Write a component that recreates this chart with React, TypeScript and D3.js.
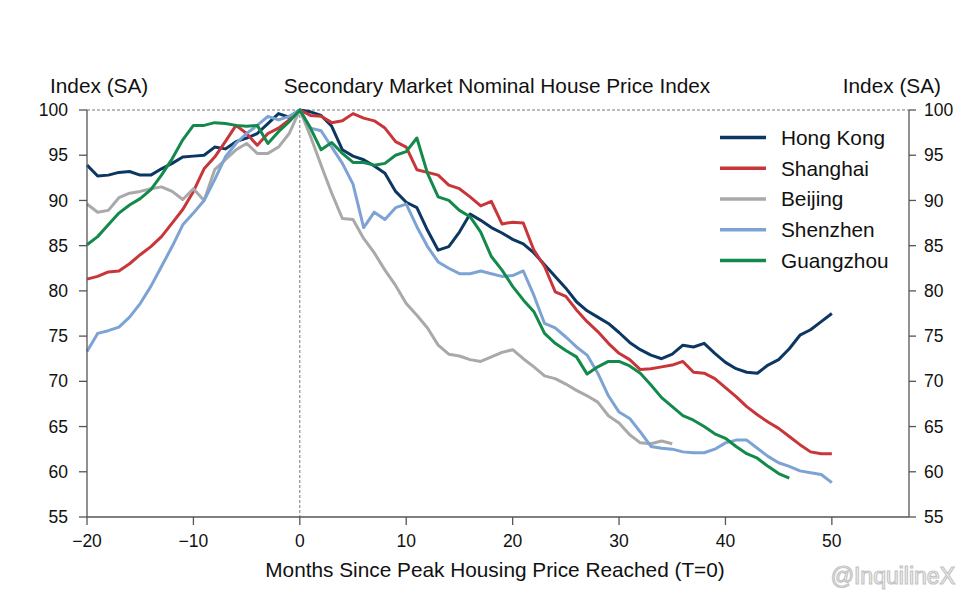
import React from "react";
import * as d3 from "d3";

// months since peak, -20 .. 50
const hongKong = [
	93.9, 92.7, 92.8, 93.1, 93.2, 92.8, 92.8, 93.5, 94.1, 94.8, 94.9, 95.0, 95.9, 95.7, 96.5, 96.9, 97.4, 98.5, 99.6, 99.2,
	100,
	99.8, 99.4, 98.2, 95.6, 94.9, 94.5, 93.8, 93.0, 91.0, 89.8, 89.2, 86.7, 84.5, 84.9, 86.5, 88.5, 87.8, 87.0, 86.4, 85.7,
	85.2, 84.2, 82.9, 81.6, 80.3, 78.8, 77.8, 77.1, 76.4, 75.4, 74.3, 73.5, 72.9, 72.5, 73.0, 74.0, 73.8, 74.2, 73.1, 72.1,
	71.4, 71.0, 70.9, 71.8, 72.4, 73.6, 75.1, 75.7, 76.6, 77.5
];
const shanghai = [
	81.3, 81.6, 82.1, 82.2, 83.0, 84.0, 84.9, 86.0, 87.5, 89.0, 91.0, 93.5, 94.8, 96.5, 98.3, 97.4, 96.1, 97.4, 98.0, 98.9,
	100,
	99.4, 99.3, 98.6, 98.8, 99.6, 99.1, 98.8, 98.0, 96.5, 95.9, 93.4, 93.1, 92.8, 91.7, 91.3, 90.4, 89.4, 89.9, 87.4, 87.6,
	87.5, 84.5, 82.7, 79.9, 79.4, 77.9, 76.6, 75.5, 74.2, 73.1, 72.4, 71.3, 71.4, 71.6, 71.8, 72.2, 71.0, 70.9, 70.3, 69.3,
	68.3, 67.2, 66.3, 65.5, 64.8, 63.9, 63.0, 62.2, 62.0, 62.0
];
// -20 .. 35
const beijing = [
	89.6, 88.7, 88.9, 90.3, 90.8, 91.0, 91.3, 91.5, 91.0, 90.1, 91.3, 90.0, 93.4, 94.5, 95.6, 96.3, 95.2, 95.2, 95.9, 97.4,
	100,
	97.1, 93.9, 90.8, 88.0, 87.9, 85.8, 84.2, 82.3, 80.6, 78.6, 77.3, 75.9, 74.0, 73.0, 72.8, 72.4, 72.2, 72.7, 73.2, 73.5,
	72.5, 71.6, 70.6, 70.3, 69.7, 69.0, 68.4, 67.7, 66.2, 65.4, 64.1, 63.2, 63.1, 63.4, 63.1
];
// -20 .. 50
const shenzhen = [
	73.3, 75.3, 75.6, 76.0, 77.1, 78.6, 80.5, 82.7, 84.9, 87.3, 88.6, 90.0, 92.3, 94.8, 96.3, 97.4, 98.3, 99.3, 98.9, 99.3,
	100,
	98.0, 97.7, 95.9, 94.1, 91.8, 87.0, 88.7, 87.9, 89.2, 89.6, 87.1, 84.9, 83.2, 82.5, 81.9, 81.9, 82.2, 81.9, 81.6, 81.7,
	82.2, 79.5, 76.4, 75.9, 74.9, 73.8, 72.9, 70.9, 68.4, 66.6, 65.9, 64.4, 62.8, 62.6, 62.5, 62.2, 62.1, 62.1, 62.5, 63.2,
	63.5, 63.5, 62.6, 61.7, 61.0, 60.6, 60.1, 59.9, 59.7, 58.8
];
// -20 .. 46
const guangzhou = [
	85.1, 86.0, 87.3, 88.6, 89.5, 90.2, 91.2, 92.8, 94.6, 96.7, 98.3, 98.3, 98.6, 98.5, 98.3, 98.2, 98.3, 96.3, 97.6, 98.7,
	100,
	98.0, 95.6, 96.4, 95.2, 94.2, 94.2, 93.9, 94.1, 95.0, 95.4, 96.9, 93.0, 90.4, 90.0, 88.9, 88.2, 86.5, 83.8, 82.3, 80.5,
	79.0, 77.7, 75.3, 74.2, 73.4, 72.7, 70.8, 71.6, 72.2, 72.2, 71.7, 70.9, 69.6, 68.2, 67.2, 66.2, 65.7, 65.0, 64.2, 63.7,
	62.8, 62.0, 61.5, 60.6, 59.8, 59.3
];

const cities = ["Hong Kong", "Shanghai", "Beijing", "Shenzhen", "Guangzhou"];
const colors = ["#0d3763", "#c8363a", "#a9a9a9", "#7ca3d3", "#138a4b"];
const seriesList = [hongKong, shanghai, beijing, shenzhen, guangzhou];
const firstMonth = -20;
const xTicks = [-20, -10, 0, 10, 20, 30, 40, 50];
const yTicks = [55, 60, 65, 70, 75, 80, 85, 90, 95, 100];

const font = "'Liberation Sans', Arial, Helvetica, sans-serif";
const axisColor = "#555";
const textSize = 20.8;

const x = d3.scaleLinear().domain([-20, 57.25]).range([87, 909]);
const y = d3.scaleLinear().domain([55, 100]).range([517, 110]);

const line = d3
	.line<number>()
	.x((_, i) => x(firstMonth + i))
	.y(d => y(d));

const fmt = (v: number) => (v < 0 ? "\u2212" + Math.abs(v) : String(v));

export default function App() {
	const [left, right] = x.range();
	return (
		<svg
			width={961}
			height={604}
			style={{ position: "absolute", left: 0, top: 0, background: "#fff" }}
			fontFamily={font}>
			{/* dashed reference lines */}
			<line x1={left} x2={right} y1={y(100)} y2={y(100)} stroke="#777" strokeDasharray="3,2" />
			<line x1={x(0)} x2={x(0)} y1={y(100)} y2={y(55)} stroke="#777" strokeDasharray="3,2" />

			{seriesList.map((s, i) => (
				<path
					key={cities[i]}
					d={line(s) || ""}
					fill="none"
					stroke={colors[i]}
					strokeWidth={3}
					strokeLinejoin="round"
				/>
			))}

			{/* spines */}
			<line x1={left} x2={left} y1={y(100)} y2={y(55)} stroke={axisColor} strokeWidth={1.3} />
			<line x1={right} x2={right} y1={y(100)} y2={y(55)} stroke={axisColor} strokeWidth={1.3} />
			<line x1={left} x2={right} y1={y(55)} y2={y(55)} stroke={axisColor} strokeWidth={1.3} />

			{yTicks.map(t => (
				<g key={"y" + t}>
					<line x1={left - 8} x2={left} y1={y(t)} y2={y(t)} stroke={axisColor} strokeWidth={1.3} />
					<line x1={right} x2={right + 7} y1={y(t)} y2={y(t)} stroke={axisColor} strokeWidth={1.3} />
					<text x={left - 19} y={y(t)} dy="0.35em" textAnchor="end" fontSize={17.5} fill="#111">
						{t}
					</text>
					<text x={right + 15} y={y(t)} dy="0.35em" textAnchor="start" fontSize={17.5} fill="#111">
						{t}
					</text>
				</g>
			))}

			{xTicks.map(t => (
				<g key={"x" + t}>
					<line x1={x(t)} x2={x(t)} y1={y(55)} y2={y(55) + 8} stroke={axisColor} strokeWidth={1.3} />
					<text x={x(t)} y={y(55) + 30} textAnchor="middle" fontSize={17.5} fill="#111">
						{fmt(t)}
					</text>
				</g>
			))}

			<text x={50} y={93} fontSize={textSize} fill="#111">Index (SA)</text>
			<text x={941} y={93} fontSize={textSize} fill="#111" textAnchor="end">Index (SA)</text>
			<text x={497} y={93} fontSize={textSize} fill="#111" textAnchor="middle">
				Secondary Market Nominal House Price Index
			</text>
			<text x={495} y={577} fontSize={textSize} fill="#111" textAnchor="middle">
				Months Since Peak Housing Price Reached (T=0)
			</text>

			{/* legend */}
			{cities.map((c, i) => (
				<g key={"lg" + c} transform={`translate(720, ${137.6 + i * 30.7})`}>
					<line x1={0} x2={46} y1={0} y2={0} stroke={colors[i]} strokeWidth={3.5} />
					<text x={61} y={0} dy="0.35em" fontSize={textSize} fill="#111">
						{c}
					</text>
				</g>
			))}

			<text
				x={955}
				y={584}
				textAnchor="end"
				fontSize={23}
				fill="#fff"
				stroke="#c4c4c4"
				strokeWidth={1.2}>
				@InquilineX
			</text>
		</svg>
	);
}
